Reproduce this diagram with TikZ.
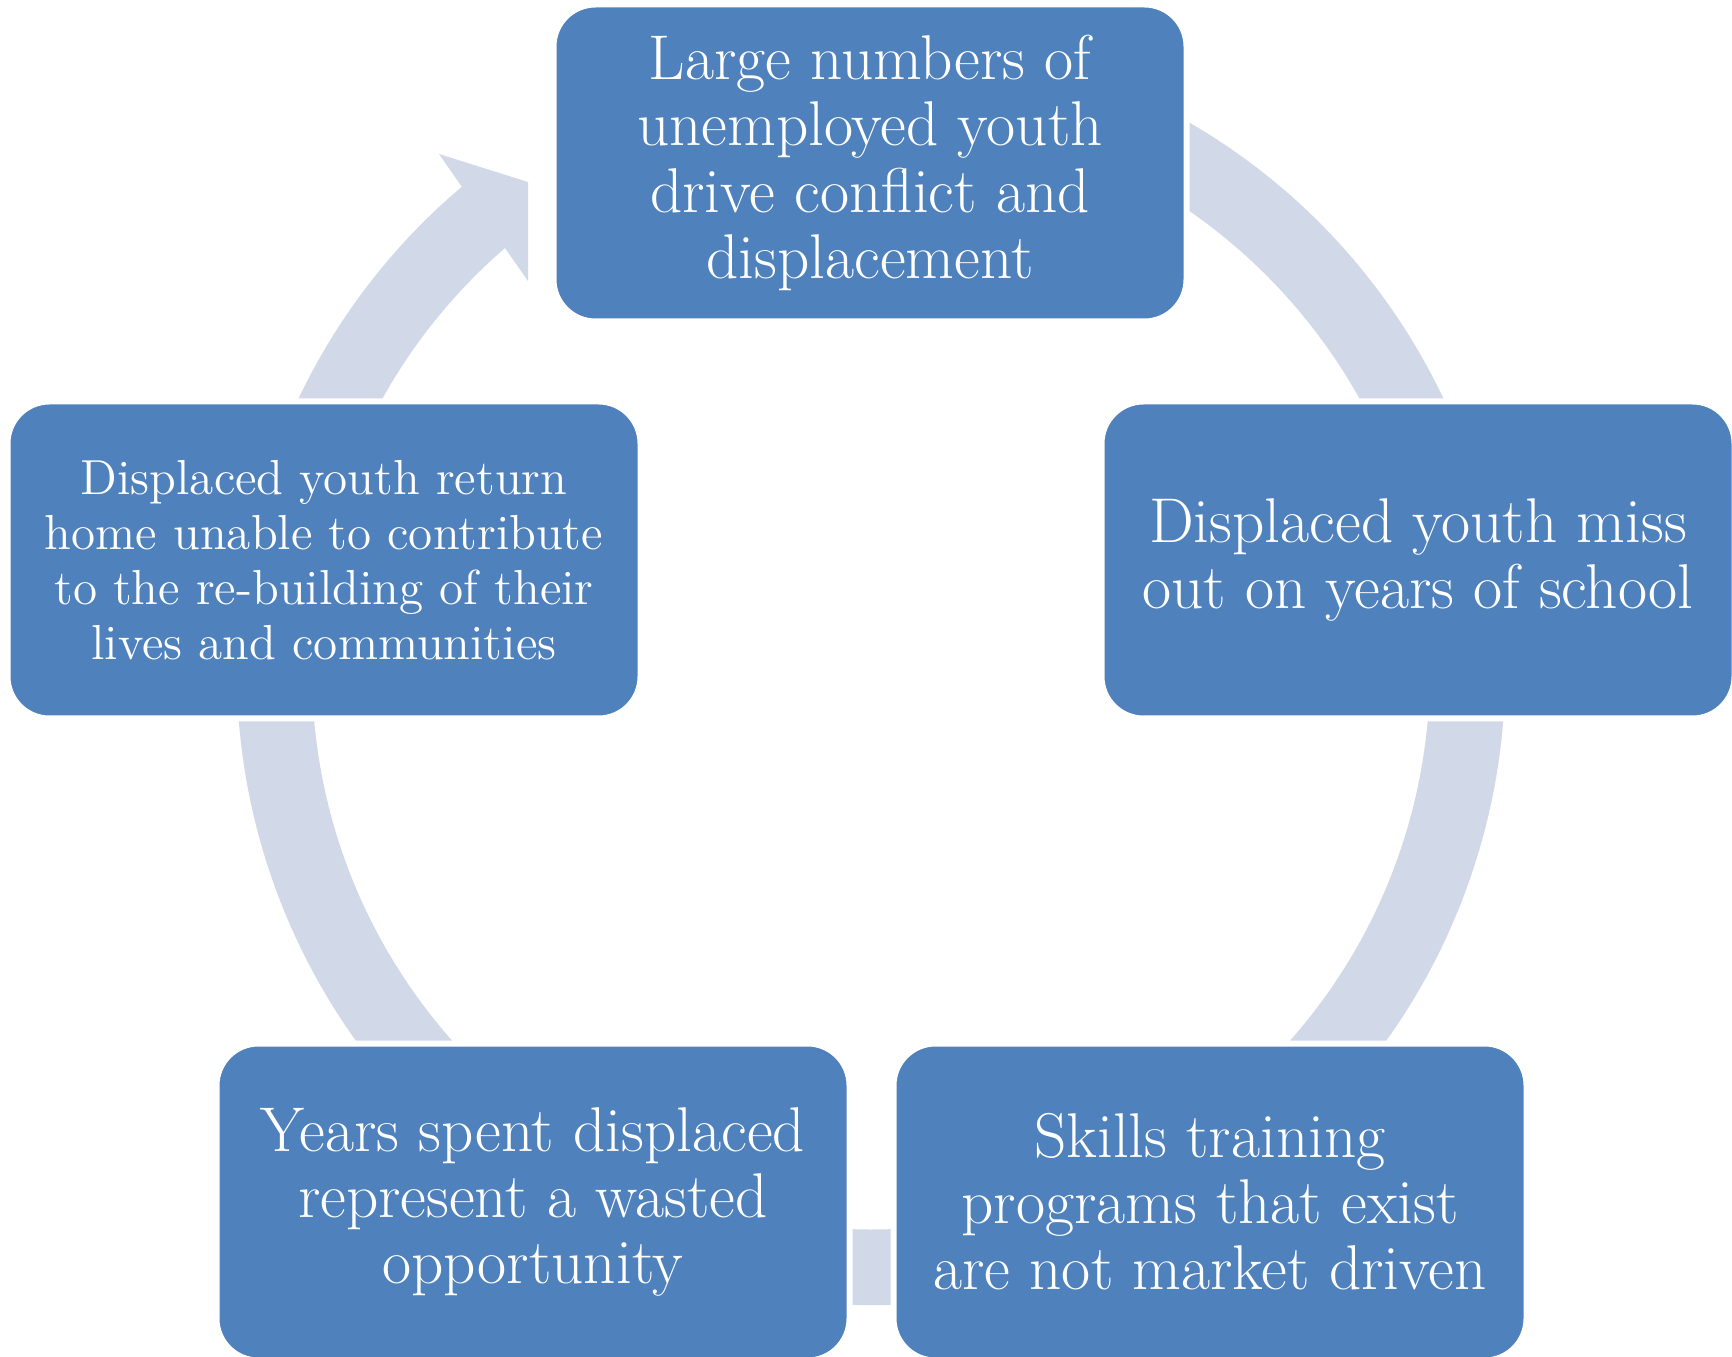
\documentclass[tikz,border=0pt]{standalone}
\usepackage{fontspec}
\usepackage{tikz}
\usetikzlibrary{positioning, calc}
\definecolor{boxblue}{RGB}{79,129,189}
\definecolor{ringblue}{RGB}{209,216,232}

\begin{document}
\begin{tikzpicture}[box/.style={rectangle, rounded corners=0.42cm, fill=boxblue, draw=white, line width=0.06cm, minimum width=6.33cm, minimum height=3.17cm, align=center, text=white, font=\fontsize{18}{18.8}\selectfont},smallbox/.style={box, font=\fontsize{14}{15.6}\selectfont}]
\useasboundingbox (0,0) rectangle (17.32,13.56);
% one ring round the cycle, head at the upper left
\coordinate (c) at (8.71,6.85);
\fill[ringblue] (4.39,12.02) -- (5.28,11.74) -- (5.28,10.75) -- (5.05,11.08) arc[start angle=-229.1, end angle=70, radius=5.59] -- ($(c)+(70:6.34)$) arc[start angle=70, end angle=-229.8, radius=6.34] -- cycle;
% the five steps, drawn over the ring
\node[box] (n0) at (8.70,11.93) {Large numbers of\\unemployed youth\\drive conflict and\\displacement};
\node[box] (n1) at (14.18,7.96) {Displaced youth miss\\out on years of school};
\node[box] (n2) at (12.10,1.54) {Skills training\\programs that exist\\are not market driven};
\node[box] (n3) at (5.33,1.54) {Years spent displaced\\represent a wasted\\opportunity};
\node[smallbox] (n4) at (3.24,7.96) {Displaced youth return\\home unable to contribute\\to the re-building of their\\lives and communities};
\end{tikzpicture}
\end{document}
